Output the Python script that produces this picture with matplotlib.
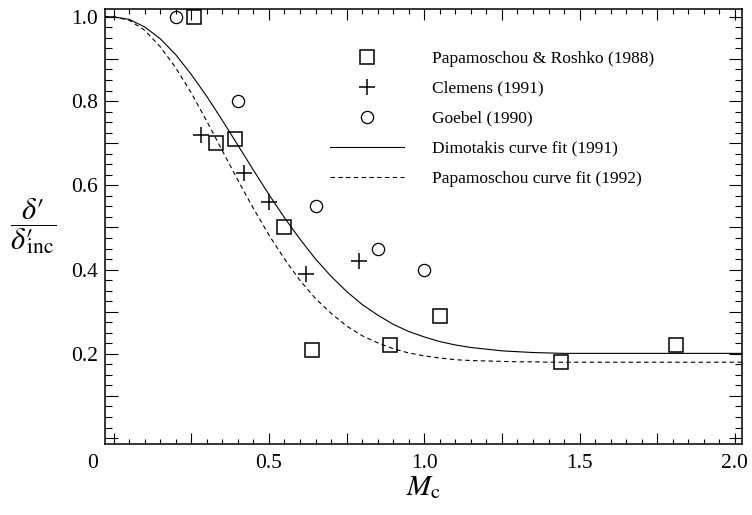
import matplotlib
matplotlib.use("Agg")
import matplotlib.pyplot as plt
from matplotlib.lines import Line2D
from matplotlib.ticker import MultipleLocator, FuncFormatter
from matplotlib.transforms import ScaledTranslation

plt.rcParams["font.family"] = ["Liberation Serif", "DejaVu Serif"]
plt.rcParams["mathtext.fontset"] = "stix"
plt.rcParams["lines.scale_dashes"] = False

# data points
pr_mc = [0.26, 0.33, 0.39, 0.55, 0.64, 0.89, 1.05, 1.44, 1.81]
pr_d = [1.00, 0.70, 0.71, 0.50, 0.21, 0.22, 0.29, 0.18, 0.22]
cl_mc = [0.28, 0.42, 0.50, 0.62, 0.79]
cl_d = [0.72, 0.63, 0.56, 0.39, 0.42]
gb_mc = [0.20, 0.40, 0.65, 0.85, 1.00]
gb_d = [1.00, 0.80, 0.55, 0.45, 0.40]

# curve fits
fit_mc = [-0.028, 0.0, 0.05, 0.10, 0.15, 0.20, 0.25, 0.30, 0.35, 0.40, 0.45, 0.50,
          0.55, 0.60, 0.65, 0.70, 0.75, 0.80, 0.85, 0.90, 0.95, 1.00, 1.05, 1.10,
          1.15, 1.20, 1.25, 1.30, 1.35, 1.40, 1.45, 1.50, 2.023]
dim_d = [1.000, 1.000, 0.994, 0.976, 0.948, 0.910, 0.863, 0.811, 0.754, 0.695, 0.636,
         0.578, 0.523, 0.472, 0.425, 0.384, 0.348, 0.317, 0.292, 0.270, 0.253, 0.240,
         0.229, 0.221, 0.215, 0.211, 0.207, 0.205, 0.203, 0.202, 0.201, 0.201, 0.201]
pap_d = [1.000, 1.000, 0.992, 0.968, 0.929, 0.879, 0.819, 0.752, 0.682, 0.612, 0.545,
         0.482, 0.425, 0.374, 0.331, 0.296, 0.266, 0.243, 0.226, 0.212, 0.202, 0.195,
         0.190, 0.186, 0.184, 0.183, 0.182, 0.181, 0.181, 0.180, 0.180, 0.180, 0.180]

labels = ["Papamoschou & Roshko (1988)", "Clemens (1991)", "Goebel (1990)",
          "Dimotakis curve fit (1991)", "Papamoschou curve fit (1992)"]

DASH = (3.2, 2.4)

fig = plt.figure(figsize=(7.52, 5.15), dpi=100)
ax = fig.add_axes([0.1396, 0.138, 0.8471, 0.844])

ax.plot(fit_mc, dim_d, "k-", lw=0.8)
ax.plot(fit_mc, pap_d, "k", lw=0.8, dashes=DASH)
ax.plot(pr_mc, pr_d, "s", ms=9.5, mfc="none", mec="k", mew=1.1, ls="none")
ax.plot(cl_mc, cl_d, "+", ms=11, mec="k", mew=1.1, ls="none")
ax.plot(gb_mc, gb_d, "o", ms=8.8, mfc="none", mec="k", mew=0.9, ls="none")

ax.set_xlim(-0.028, 2.023)
ax.set_ylim(-0.014, 1.018)

ax.xaxis.set_major_locator(MultipleLocator(0.25))
ax.xaxis.set_minor_locator(MultipleLocator(0.05))
ax.yaxis.set_major_locator(MultipleLocator(0.1))
ax.yaxis.set_minor_locator(MultipleLocator(0.025))
ax.xaxis.set_major_formatter(FuncFormatter(
    lambda v, p: ("0" if abs(v) < 1e-9 else f"{v:.1f}") if abs(v * 2 - round(v * 2)) < 1e-6 else ""))
ax.yaxis.set_major_formatter(FuncFormatter(
    lambda v, p: f"{v:.1f}" if (abs(v * 5 - round(v * 5)) < 1e-6 and v > 0.05) else ""))

ax.tick_params(which="both", direction="in", top=True, right=True, width=0.8,
               labelsize=15.5, colors="k")
ax.tick_params(axis="x", which="major", length=8, pad=7)
ax.tick_params(axis="x", which="minor", length=3.3)
ax.tick_params(axis="y", which="major", length=9.5, pad=5)
ax.tick_params(axis="y", which="minor", length=4.8)
for s in ax.spines.values():
    s.set_linewidth(1.1)

# the origin label sits left of its tick
fig.canvas.draw()
for lab in ax.get_xticklabels():
    if lab.get_text() == "0":
        lab.set_transform(lab.get_transform() + ScaledTranslation(-0.21, 0, fig.dpi_scale_trans))

ax.set_xlabel(r"$M_{\rm c}$", fontsize=21, labelpad=1)
ax.set_ylabel("$\\dfrac{\\delta\u2032}{\\delta\u2032\\hspace{-0.3}{}_{\\rm inc}}$", fontsize=22,
              rotation=0, labelpad=27, va="center")

handles = [
    Line2D([], [], marker="s", ms=9.5, mfc="none", mec="k", mew=1.1, ls="none"),
    Line2D([], [], marker="+", ms=11, mec="k", mew=1.1, ls="none"),
    Line2D([], [], marker="o", ms=8.8, mfc="none", mec="k", mew=0.9, ls="none"),
    Line2D([], [], color="k", lw=0.8),
    Line2D([], [], color="k", lw=0.8, dashes=DASH),
]
ax.legend(handles, labels, loc="upper left", bbox_to_anchor=(0.353, 0.905),
          frameon=False, fontsize=12.5, handlelength=4.25, handletextpad=1.65,
          labelspacing=0.8, borderpad=0, borderaxespad=0)

fig.savefig("out.png", dpi=100)
